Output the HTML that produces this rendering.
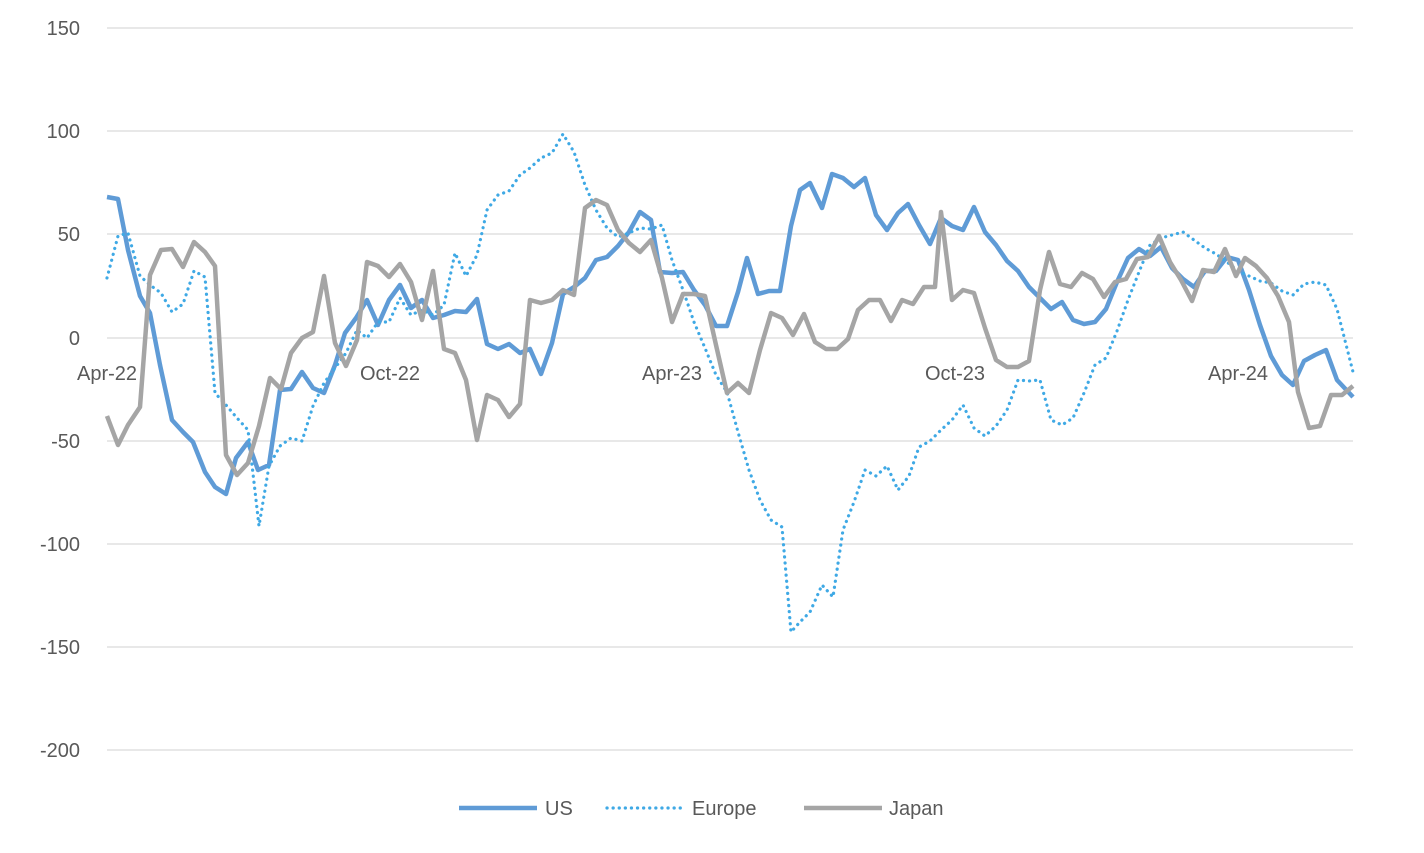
<!DOCTYPE html>
<html><head><meta charset="utf-8"><style>
body{margin:0;background:#fff;}
svg text{font-family:"Liberation Sans",sans-serif;fill:#595959;font-size:20px;}
</style></head><body>
<svg width="1424" height="848" xmlns="http://www.w3.org/2000/svg">
<g stroke="#d9d9d9" stroke-width="1.3">
<line x1="107" x2="1353" y1="28" y2="28"/><line x1="107" x2="1353" y1="131" y2="131"/>
<line x1="107" x2="1353" y1="234" y2="234"/><line x1="107" x2="1353" y1="338" y2="338"/>
<line x1="107" x2="1353" y1="441" y2="441"/><line x1="107" x2="1353" y1="544" y2="544"/>
<line x1="107" x2="1353" y1="647" y2="647"/><line x1="107" x2="1353" y1="750" y2="750"/>
</g>
<g text-anchor="end">
<text x="80" y="35">150</text><text x="80" y="138">100</text><text x="80" y="241">50</text>
<text x="80" y="345">0</text><text x="80" y="448">-50</text><text x="80" y="551">-100</text>
<text x="80" y="654">-150</text><text x="80" y="757">-200</text>
</g>
<g text-anchor="middle">
<text x="107" y="380">Apr-22</text><text x="390" y="380">Oct-22</text><text x="672" y="380">Apr-23</text>
<text x="955" y="380">Oct-23</text><text x="1238" y="380">Apr-24</text>
</g>
<polyline fill="none" stroke="#5f9bd6" stroke-width="4.5" stroke-linejoin="round" points="107,197 118,199 128,250 140,296 150,313 160,365 172,420 183,432 193,442 205,472 215,487 226,494 236,458 248,442 258,470 269,465 280,390 291,389 302,372 313,388 324,393 335,365 345,333 356,318 367,300 378,325 389,300 400,285 411,308 422,300 433,318 444,315 455,311 466,312 477,299 487,344 498,349 509,344 520,353 530,349 541,374 552,343 563,294 574,287 585,278 596,260 607,257 618,246 629,232 640,212 651,220 660,272 672,273 683,272 694,290 705,305 716,326 727,326 738,292 747,258 758,294 769,291 780,291 791,226 800,190 810,183 822,208 832,174 843,178 854,187 865,178 876,215 887,230 898,213 908,204 919,225 930,244 941,218 952,226 963,230 974,207 985,232 996,245 1007,261 1018,271 1029,287 1040,298 1051,309 1062,302 1073,320 1084,324 1095,322 1106,309 1117,282 1128,258 1139,249 1150,256 1161,247 1172,268 1183,279 1194,287 1205,271 1216,271 1227,257 1238,260 1249,290 1260,325 1271,356 1282,375 1293,385 1304,361 1315,355 1326,350 1337,380 1353,397"/>
<polyline fill="none" stroke="#3fa9e5" stroke-width="3.2" stroke-dasharray="0.1 6" stroke-linecap="round" points="107,278 118,236 128,233 140,276 150,285 161,293 172,312 183,304 194,271 205,277 215,393 226,405 237,418 248,430 259,526 269,466 280,446 291,438 302,441 313,406 324,383 335,368 346,353 357,330 367,338 378,322 389,322 400,298 411,315 422,310 433,315 444,305 455,253 466,276 477,255 487,210 498,195 509,191 520,175 530,168 541,158 552,153 563,134 574,152 585,185 596,210 607,228 618,237 629,233 640,228 651,229 662,225 672,260 683,290 694,322 705,348 716,375 727,392 738,432 749,470 760,500 771,520 782,527 791,632 800,622 810,612 822,585 833,597 843,530 854,502 865,470 876,476 887,466 898,490 909,476 919,447 930,441 941,430 952,420 963,405 974,428 985,436 996,426 1007,410 1018,380 1029,381 1040,380 1051,420 1062,425 1073,418 1084,393 1095,365 1106,358 1117,331 1128,300 1139,272 1150,245 1161,238 1172,235 1183,232 1194,240 1205,248 1216,254 1227,262 1238,271 1249,276 1260,281 1271,283 1282,291 1293,295 1304,284 1315,282 1326,285 1337,309 1353,372"/>
<polyline fill="none" stroke="#a5a5a5" stroke-width="4.5" stroke-linejoin="round" points="107,416 118,445 128,425 140,407 150,275 161,250 172,249 183,267 194,242 205,252 215,266 226,455 237,475 248,463 259,426 270,378 281,389 291,353 302,338 313,332 324,276 335,343 346,366 357,340 367,262 378,266 389,277 400,264 411,282 422,320 433,271 444,349 455,353 466,380 477,440 487,395 498,400 509,417 520,404 530,300 541,303 552,300 563,290 574,295 585,208 596,200 607,205 618,230 629,243 640,252 651,240 662,278 672,322 683,294 694,294 705,296 716,345 727,393 738,383 749,393 760,350 771,313 782,318 793,335 804,314 815,342 826,349 837,349 848,339 858,310 869,300 880,300 891,321 902,300 913,304 924,287 935,287 941,212 952,300 963,290 974,293 985,328 996,360 1007,367 1018,367 1029,361 1040,290 1049,252 1060,284 1071,287 1082,273 1093,279 1104,297 1115,282 1126,279 1137,259 1148,257 1159,236 1170,262 1181,280 1192,301 1203,270 1214,272 1225,249 1236,276 1245,258 1256,266 1267,278 1278,296 1289,322 1298,392 1309,428 1320,426 1331,395 1342,395 1353,386"/>
<line x1="459" x2="537" y1="808" y2="808" stroke="#5f9bd6" stroke-width="4.5"/>
<text x="545" y="815">US</text>
<line x1="607" x2="685" y1="808" y2="808" stroke="#3fa9e5" stroke-width="3.2" stroke-dasharray="0.1 6" stroke-linecap="round"/>
<text x="692" y="815">Europe</text>
<line x1="804" x2="882" y1="808" y2="808" stroke="#a5a5a5" stroke-width="4.5"/>
<text x="889" y="815">Japan</text>
</svg>
</body></html>
